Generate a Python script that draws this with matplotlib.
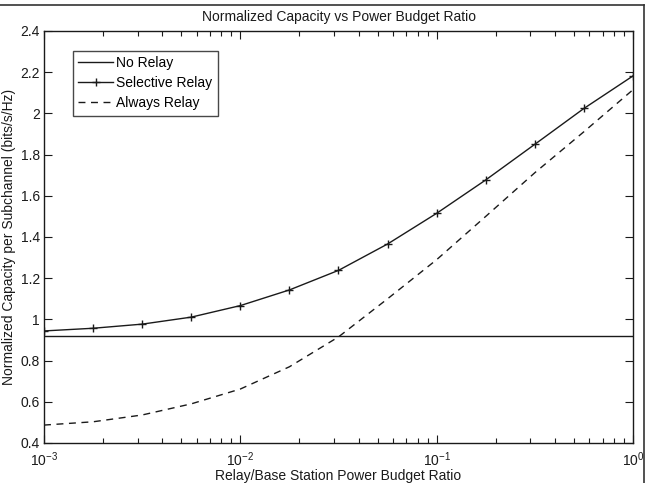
import numpy as np
import matplotlib
matplotlib.use("Agg")
import matplotlib.pyplot as plt
from matplotlib.lines import Line2D

plt.rcParams['font.family'] = ['Liberation Sans', 'DejaVu Sans']
plt.rcParams['mathtext.fontset'] = 'custom'
plt.rcParams['mathtext.rm'] = 'Liberation Sans'
plt.rcParams['mathtext.it'] = 'Liberation Sans'

# power budget ratio (log spaced sample points, marker positions)
ratio = [1e-3, 1.778e-3, 3.162e-3, 5.623e-3, 1e-2, 1.778e-2, 3.162e-2,
         5.623e-2, 1e-1, 1.778e-1, 3.162e-1, 5.623e-1, 1.0]
no_relay = [0.918] * len(ratio)
selective_relay = [0.944, 0.957, 0.977, 1.011, 1.067, 1.143, 1.238,
                   1.366, 1.515, 1.677, 1.85, 2.024, 2.182]
always_relay = [0.487, 0.503, 0.536, 0.59, 0.662, 0.77, 0.915,
                1.1, 1.29, 1.5, 1.712, 1.911, 2.115]

col = '#1a1a1a'
fs = 10

fig = plt.figure(figsize=(6.48, 4.83), dpi=100)
ax = fig.add_axes([44 / 648, 1 - 443 / 483, 589 / 648, 412 / 483])

ax.plot(ratio, no_relay, color=col, lw=1.0, label='No Relay')
ax.plot(ratio, selective_relay, color=col, lw=1.0, marker='+', ms=6,
        mew=1.0, label='Selective Relay')
ax.plot(ratio, always_relay, color=col, lw=1.0, ls=(0, (5, 4)),
        label='Always Relay')

ax.set_xscale('log')
ax.set_xlim(1e-3, 1)
ax.set_ylim(0.4, 2.4)
ax.set_yticks(np.arange(0.4, 2.41, 0.2))
ax.set_yticklabels(['0.4', '0.6', '0.8', '1', '1.2', '1.4', '1.6',
                    '1.8', '2', '2.2', '2.4'])

ax.tick_params(which='both', direction='in', top=True, right=True,
               labelsize=fs, colors=col, pad=3)
ax.tick_params(axis='x', which='both', pad=5)
ax.tick_params(which='major', length=6, width=0.8)
ax.tick_params(which='minor', length=3.5, width=0.8)
for s in ax.spines.values():
    s.set_linewidth(1.0)
    s.set_color(col)

ax.set_title('Normalized Capacity vs Power Budget Ratio', fontsize=fs,
             color=col, pad=7)
ax.set_xlabel('Relay/Base Station Power Budget Ratio', fontsize=fs,
              color=col, labelpad=0)
ax.set_ylabel('Normalized Capacity per Subchannel (bits/s/Hz)',
              fontsize=fs, color=col, labelpad=3)

leg = ax.legend(loc='upper left', bbox_to_anchor=(0.049, 0.952),
                fontsize=fs, frameon=True, fancybox=False,
                handlelength=2.5, handletextpad=0.2, borderpad=0.4,
                labelspacing=0.42, borderaxespad=0)
leg.get_frame().set_edgecolor(col)
leg.get_frame().set_linewidth(1.0)

# outer frame lines (top and right) seen in the reference
fig.add_artist(Line2D([0, 643.5 / 648], [1 - 5 / 483, 1 - 5 / 483],
                      transform=fig.transFigure, color='#333333', lw=1.2))
fig.add_artist(Line2D([643.5 / 648, 643.5 / 648], [0, 1 - 5 / 483],
                      transform=fig.transFigure, color='#333333', lw=1.2))

fig.savefig('out.png', dpi=100)
